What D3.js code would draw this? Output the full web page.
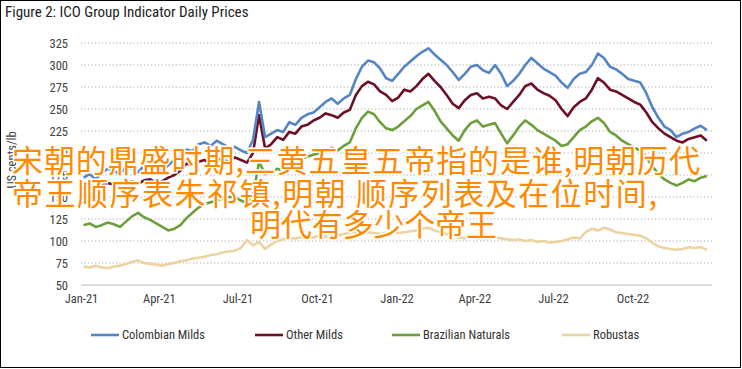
<!DOCTYPE html>
<html>
<head>
<meta charset="utf-8">
<script src="https://cdn.jsdelivr.net/npm/d3@7"></script>
<style>
  body { margin: 0; background: #fff; }
  svg text { font-family: "Liberation Sans Narrow", "Roboto Condensed", "Open Sans", sans-serif; }
</style>
</head>
<body>
<svg id="drawing_region" width="742" height="369"></svg>
<script>
// weekly readings, first week starts Mon 4 Jan 2021
const start = new Date(2021, 0, 4);
const colombian = [172,176,170,178,182,180,176,184,182,178,186,190,184,180,186,192,196,204,202,210,212,208,214,210,206,
  207,203,200,215,258,218,222,226,224,235,232,240,244,246,252,258,262,256,262,266,284,298,305,303,296,285,282,290,298,304,310,315,319,312,306,300,
  292,283,290,298,300,294,291,300,290,276,282,290,300,308,302,296,292,288,280,274,284,290,292,300,313,308,298,295,290,284,282,280,268,252,240,230,226,218,222,224,228,231,226];
const otherMilds = [162,165,160,163,166,164,160,166,168,165,169,170,166,168,172,175,180,188,186,190,192,188,194,192,190,
  195,192,189,200,243,205,210,218,215,224,222,230,232,237,240,245,243,240,246,249,266,276,281,278,270,266,259,263,272,270,276,284,290,282,275,266,
  256,251,260,266,268,262,264,262,254,250,258,266,276,279,272,268,265,260,250,242,252,258,262,272,285,280,272,270,266,262,258,255,246,235,228,222,218,214,212,216,218,220,214];
const brazilian = [118,120,116,118,121,119,116,122,128,132,127,124,120,116,112,114,118,126,132,138,142,144,146,148,150,
  150,146,143,152,190,176,178,182,180,188,186,193,196,198,200,202,206,203,208,212,228,240,247,244,235,228,226,230,236,242,250,254,258,248,236,228,
  220,214,226,234,237,230,232,234,222,211,220,230,237,232,226,222,218,214,208,210,218,226,230,236,240,234,224,220,214,210,206,203,195,185,176,170,166,163,166,170,168,172,174];
const robustas = [71,70,72,70,69,71,72,74,76,78,75,74,73,72,74,75,77,78,80,81,82,84,85,87,88,
  89,92,101,95,99,91,96,100,102,103,103,104,105,104,106,105,107,106,108,109,110,108,110,109,108,109,110,109,110,111,112,114,115,112,110,108,
  106,104,103,104,103,102,103,104,103,102,101,102,100,101,99,100,98,99,100,102,104,103,110,114,112,115,113,110,109,108,107,106,103,98,94,92,91,90,91,93,92,93,90];

const seriesNames = ["Colombian Milds", "Other Milds", "Brazilian Naturals", "Robustas"];
const seriesColors = ["#5585c5", "#6c1027", "#6d9e3d", "#ecd4a2"];
const yTicks = [50,75,100,125,150,175,200,225,250,275,300,325];
const xTickDates = ["2021-01-01","2021-04-01","2021-07-01","2021-10-01","2022-01-01","2022-04-01","2022-07-01","2022-10-01"];
const overlayLines = ["宋朝的鼎盛时期,三黄五皇五帝指的是谁,明朝历代", "帝王顺序表朱祁镇,明朝  顺序列表及在位时间,", "明代有多少个帝王"];

const svg = d3.select('#drawing_region');
const x = d3.scaleTime().domain([new Date(2021,0,1), new Date(2023,0,1)]).range([81, 712]);
const y = d3.scaleLinear().domain([50, 325]).range([285, 43]);
const dateAt = i => d3.timeDay.offset(start, i * 7);

// frame + title
svg.append("rect").attr("x", 0.5).attr("y", 0.5).attr("width", 740).attr("height", 367)
  .attr("fill", "none").attr("stroke", "#000");
svg.append("text").attr("x", 5).attr("y", 17).attr("font-size", 15).attr("fill", "#222")
  .text("Figure 2: ICO Group Indicator Daily Prices");

// grid
svg.append("g").selectAll("line").data(yTicks.slice(1)).join("line")
  .attr("x1", 81).attr("x2", 712).attr("y1", d => y(d)).attr("y2", d => y(d))
  .attr("stroke", "#c8c8c8").attr("stroke-width", 1.3).attr("stroke-dasharray", "1.3,2.2");
svg.append("line").attr("x1", 81).attr("x2", 712).attr("y1", y(50)).attr("y2", y(50))
  .attr("stroke", "#d0d0d0").attr("stroke-width", 1.3);

// y axis
const yAxis = svg.append("g").attr("transform", "translate(70,0)")
  .call(d3.axisLeft(y).tickValues(yTicks).tickSize(0).tickPadding(2));
yAxis.select(".domain").remove();
yAxis.selectAll("text").attr("font-size", 12.5).attr("fill", "#404040").style("font-family", null);

// x axis
const xAxis = svg.append("g").attr("transform", "translate(0,294)")
  .call(d3.axisBottom(x).tickValues(xTickDates.map(d => d3.timeParse("%Y-%m-%d")(d)))
    .tickFormat(d3.timeFormat("%b-%y")).tickSize(0).tickPadding(0));
xAxis.select(".domain").remove();
xAxis.selectAll("text").attr("font-size", 12.5).attr("fill", "#404040").style("font-family", null);

svg.append("text").attr("transform", "translate(16,160) rotate(-90)")
  .attr("text-anchor", "middle").attr("font-size", 12.5).attr("fill", "#404040").text("US cents/lb");

// lines
const allSeries = [colombian, otherMilds, brazilian, robustas];
const line = d3.line().x((d, i) => x(dateAt(i))).y(d => y(d));
svg.append("g").selectAll("path").data(allSeries.slice().reverse()).join("path")
  .attr("d", d => line(d)).attr("fill", "none")
  .attr("stroke", (d, i) => seriesColors[3 - i]).attr("stroke-width", 2.6)
  .attr("stroke-linejoin", "round");

// legend
const legendX = [91, 255, 392, 562];
const lg = svg.append("g").selectAll("g").data(seriesNames).join("g")
  .attr("transform", (d, i) => `translate(${legendX[i]},335)`);
lg.append("line").attr("x1", 0).attr("x2", 28).attr("stroke", (d, i) => seriesColors[i]).attr("stroke-width", 2.6);
lg.append("text").attr("x", 31).attr("dy", "0.35em").attr("font-size", 12.5).attr("fill", "#333").text(d => d);

// overlay text
const ov = svg.append("g");
const ovPos = [[12, 158, 688], [12, 191, 645], [250, 222, 247]];
ov.selectAll("text").data(overlayLines).join("text")
  .attr("x", (d, i) => ovPos[i][0]).attr("y", (d, i) => ovPos[i][1])
  .attr("textLength", (d, i) => ovPos[i][2]).attr("lengthAdjust", "spacing")
  .attr("dominant-baseline", "central")
  .style("font-family", '"Noto Sans CJK SC", sans-serif')
  .attr("font-size", 31).attr("fill", "#ff8a00")
  .attr("stroke", "#fff").attr("stroke-width", 3).attr("paint-order", "stroke")
  .text(d => d);
</script>
</body>
</html>
